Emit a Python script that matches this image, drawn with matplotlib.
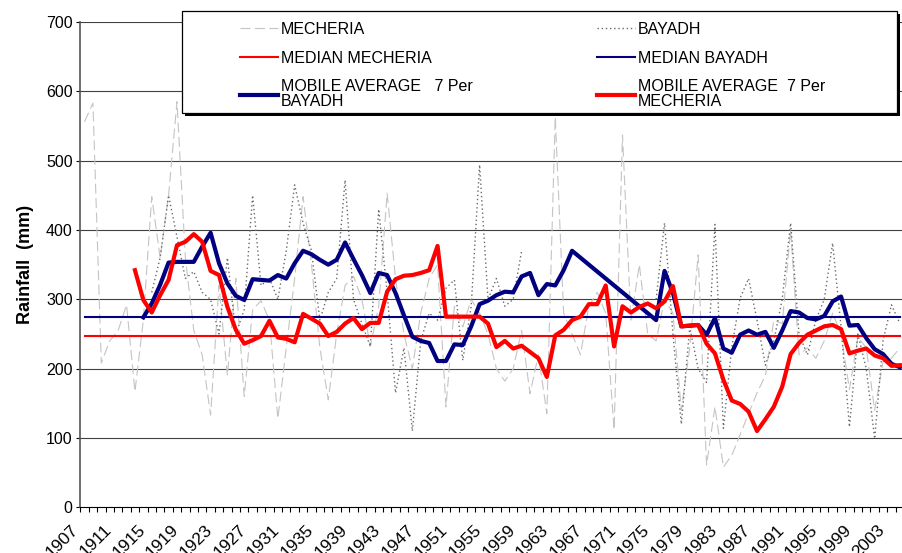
import matplotlib
matplotlib.use("Agg")
import matplotlib.pyplot as plt
from matplotlib.patches import Rectangle
from matplotlib.ticker import NullFormatter
from matplotlib.transforms import ScaledTranslation
import numpy as np

plt.rcParams['font.family'] = ['Liberation Sans', 'DejaVu Sans']

# data, one value per year 1907..2004
years = list(range(1907, 2005))

mecheria = [556, 583, 208, 240, 255, 292, 167, 270, 448, 360,
            450, 585, 360, 255, 220, 133, 320, 190, 330, 160,
            285, 298, 270, 128, 230, 330, 448, 350, 230, 155,
            250, 320, 333, 300, 232, 290, 453, 330, 250, 200,
            280, 330, 350, 145, 290, 260, 300, 280, 250, 200,
            182, 200, 255, 164, 220, 135, 563, 280, 250, 220,
            290, 310, 280, 112, 537, 270, 350, 250, 240, 300,
            280, 140, 230, 364, 61, 145, 58, 75, 105, 135,
            165, 190, 270, 265, 400, 220, 230, 215, 240, 280,
            250, 170, 245, 230, 140, 210, 215, 230]

bayadh = [None, None, None, None, None, None, None, None, 310, 360,
          450, 390, 330, 340, 310, 300, 250, 360, 250, 285,
          450, 320, 330, 300, 370, 465, 410, 370, 270, 310,
          330, 472, 300, 265, 232, 430, 310, 165, 230, 110,
          240, 280, 270, 316, 328, 212, 290, 494, 300, 330,
          290, 300, 370, None, None, None, None, None, None, None,
          None, None, None, None, None, None, None, None, 300, 410,
          250, 120, 260, 200, 180, 408, 114, 231, 302, 330,
          270, 205, 240, 300, 410, 250, 220, 270, 300, 381,
          260, 116, 250, 200, 99, 241, 292, 265]

median_mecheria = 247
median_bayadh = 274

ma_mecheria = [None, None, None, None, None, None, 342, 299, 281, 306,
               328, 378, 383, 394, 383, 341, 335, 289, 256, 236,
               241, 247, 269, 245, 243, 238, 279, 272, 265, 247,
               253, 265, 273, 257, 266, 266, 311, 329, 334, 335,
               338, 342, 377, 275, 275, 275, 275, 275, 265, 231,
               240, 229, 233, 224, 215, 188, 248, 256, 270, 275,
               293, 293, 320, 232, 290, 281, 289, 294, 287, 297,
               319, 261, 262, 263, 236, 222, 184, 154, 149, 138,
               110, 127, 145, 174, 221, 237, 249, 255, 261, 263,
               257, 222, 226, 229, 219, 215, 204, 205]

ma_bayadh = [None, None, None, None, None, None, None, 274, 294, 321,
             353, 354, 354, 354, 376, 396, 352, 323, 305, 299,
             329, 328, 327, 335, 330, 352, 370, 365, 357, 350,
             357, 382, 358, 335, 309, 338, 335, 309, 277, 246,
             240, 237, 211, 211, 235, 234, 261, 293, 298, 306,
             311, 310, 333, 338, 306, 322, 320, 342, 370, None,
             None, None, None, None, None, None, None, None, 270, 341,
             309, 261, 262, 263, 249, 273, 229, 223, 249, 255,
             249, 253, 230, 255, 283, 281, 273, 271, 276, 297,
             304, 262, 263, 244, 228, 221, 207, 202]

tick_years = years[::4]

x = np.arange(len(years))
mech = np.array(mecheria, dtype=float)
bay = np.array(bayadh, dtype=float)
ma_m = np.array(ma_mecheria, dtype=float)
ma_b = np.array(ma_bayadh, dtype=float)

W, H = 903, 553
fig = plt.figure(figsize=(W / 100, H / 100), dpi=100)
ax = fig.add_axes([80.3 / W, 45.7 / H, 823.8 / W, 485.3 / H])

ax.set_ylim(0, 700)
ax.set_xlim(-0.5, len(years) - 0.5)
ax.set_yticks(range(0, 701, 100))
for v in range(100, 701, 100):
    ax.axhline(v, color='#404040', lw=0.8, zorder=0.5)

l_mech, = ax.plot(x, mech, color='#c4c4c4', lw=0.8, ls=(0, (9, 4)), label='MECHERIA')
l_bay, = ax.plot(x, bay, color='#6a6a6a', lw=1.0, ls=(0, (1, 2)), label='BAYADH')
l_medm, = ax.plot(x, [median_mecheria] * len(x), color='#ff0000', lw=1.5,
                  label='MEDIAN MECHERIA')
l_medb, = ax.plot(x, [median_bayadh] * len(x), color='#000080', lw=1.5,
                  label='MEDIAN BAYADH')
ok = ~np.isnan(ma_b)
l_mab, = ax.plot(x[ok], ma_b[ok], color='#000080', lw=3, solid_joinstyle='round',
                 label='MOBILE AVERAGE   7 Per\nBAYADH')
l_mam, = ax.plot(x, ma_m, color='#ff0000', lw=3, solid_joinstyle='round',
                 label='MOBILE AVERAGE  7 Per\nMECHERIA')

for s in ['top', 'right']:
    ax.spines[s].set_visible(False)
ax.spines['left'].set_color('#555555')
ax.spines['left'].set_linewidth(1.2)
ax.spines['bottom'].set_color('black')
ax.spines['bottom'].set_linewidth(0.8)

ax.tick_params(axis='y', length=3, width=0.8, pad=2.5, labelsize=11.5)
ax.set_xticks(np.arange(-0.5, len(years), 1))
ax.xaxis.set_major_formatter(NullFormatter())
ax.tick_params(axis='x', which='major', length=3.6, width=0.8, direction='out')
idx = [years.index(y) for y in tick_years]
ax.set_xticks(idx, minor=True)
ax.set_xticklabels([str(y) for y in tick_years], minor=True, rotation=45,
                   ha='right', va='center', rotation_mode='anchor')
ax.tick_params(axis='x', which='minor', length=0, pad=14.5, labelsize=12.5)
for lab in ax.get_xticklabels(minor=True):
    lab.set_transform(lab.get_transform() + ScaledTranslation(-0.09, 0, fig.dpi_scale_trans))

ax.set_ylabel('Rainfall  (mm)', fontsize=13, fontweight='bold')
ax.yaxis.set_label_coords(-(80.3 - 34) / 823.8, 0.5)

# legend box with shadow
fig.patches.append(Rectangle((185 / W, 1 - 116 / H), 715 / W, 102 / H,
                             transform=fig.transFigure, fc='black', ec='none', zorder=2.9))
fig.patches.append(Rectangle((182 / W, 1 - 113 / H), 715 / W, 102 / H,
                             transform=fig.transFigure, fc='white', ec='black',
                             lw=0.9, zorder=3))
leg = fig.legend(handles=[l_mech, l_medm, l_mab, l_bay, l_medb, l_mam], ncol=2,
                 loc='upper left', bbox_to_anchor=(240 / W, 1 - 22 / H),
                 frameon=False, borderpad=0, borderaxespad=0, handlelength=2.4,
                 handletextpad=0.15, columnspacing=7.8, labelspacing=0.86,
                 fontsize=11.5)
leg.set_zorder(5)
for t in leg.get_texts():
    t.set_linespacing(1.0)

fig.savefig('out.png', dpi=100)
